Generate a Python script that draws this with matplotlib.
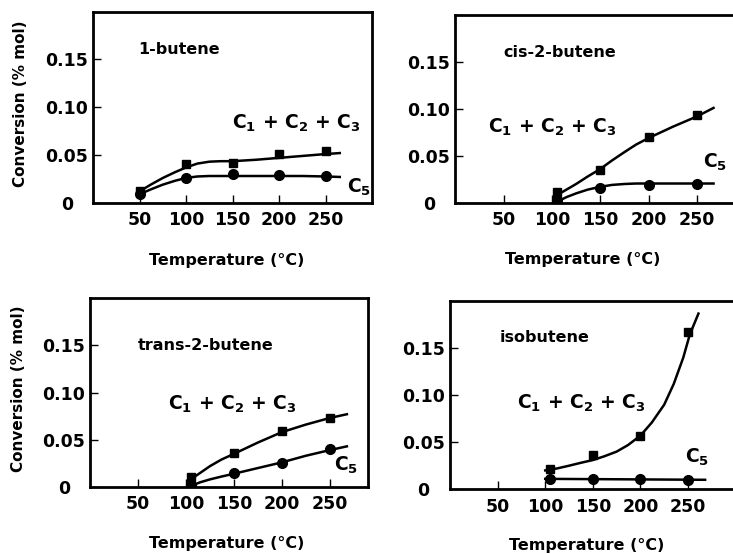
import matplotlib
matplotlib.use('Agg')
import matplotlib.pyplot as plt

plt.rcParams['font.family'] = ['DejaVu Sans']
plt.rcParams['font.weight'] = 'bold'
plt.rcParams['axes.labelweight'] = 'bold'
plt.rcParams['mathtext.default'] = 'bf'

# measured points (temperature in C, conversion in % mol)
temps_1 = [50, 100, 150, 200, 250]
temps_2 = [105, 150, 200, 250]

butene1_c123 = [0.012, 0.041, 0.042, 0.051, 0.054]
butene1_c5 = [0.0095, 0.026, 0.030, 0.029, 0.028]
cis_c123 = [0.011, 0.035, 0.070, 0.093]
cis_c5 = [0.003, 0.016, 0.019, 0.020]
trans_c123 = [0.011, 0.036, 0.059, 0.073]
trans_c5 = [0.002, 0.015, 0.025, 0.040]
iso_c123 = [0.021, 0.036, 0.057, 0.167]
iso_c5 = [0.011, 0.011, 0.011, 0.010]

# hand drawn fit curves
fit1_x = [50, 62, 75, 88, 100, 112, 125, 137, 150, 175, 200, 225, 250, 265]
fit1_c123 = [0.012, 0.019, 0.026, 0.032, 0.037, 0.041, 0.043, 0.0435, 0.0435, 0.045, 0.047, 0.049, 0.051, 0.052]
fit1_c5 = [0.009, 0.014, 0.019, 0.023, 0.026, 0.0275, 0.028, 0.028, 0.028, 0.028, 0.028, 0.028, 0.0275, 0.027]

fit2_x = [105, 115, 125, 137, 150, 162, 175, 187, 200, 225, 250, 267]
fit2_c123 = [0.008, 0.014, 0.020, 0.028, 0.036, 0.045, 0.054, 0.062, 0.069, 0.081, 0.092, 0.101]
fit2_c5 = [0.001, 0.006, 0.010, 0.014, 0.017, 0.019, 0.020, 0.0205, 0.0205, 0.0205, 0.0205, 0.0205]

fit3_x = [105, 115, 125, 137, 150, 175, 200, 225, 250, 268]
fit3_c123 = [0.008, 0.015, 0.022, 0.029, 0.035, 0.047, 0.058, 0.066, 0.073, 0.077]
fit3_c5 = [0.001, 0.005, 0.008, 0.011, 0.014, 0.020, 0.026, 0.033, 0.039, 0.043]

fit4_x = [100, 112, 125, 137, 150, 162, 175, 187, 200, 212, 225, 235, 245, 252, 261]
fit4_c123 = [0.020, 0.022, 0.025, 0.028, 0.031, 0.035, 0.040, 0.047, 0.057, 0.071, 0.090, 0.112, 0.140, 0.165, 0.187]
fit4_c5_x = [100, 268]
fit4_c5 = [0.011, 0.010]

panels = [
    dict(name='1-butene', pos=[0.127, 0.634, 0.381, 0.345], xlim=300,
         tx=temps_1, sq=butene1_c123, ci=butene1_c5,
         fx=fit1_x, fsq=fit1_c123, fcx=fit1_x, fci=fit1_c5,
         title_xy=(0.16, 0.80), lab123=(149, 0.083), lab5=(273, 0.016),
         xlab_x=0.48, ylabel=True),
    dict(name='cis-2-butene', pos=[0.621, 0.634, 0.396, 0.339], xlim=300,
         tx=temps_2, sq=cis_c123, ci=cis_c5,
         fx=fit2_x, fsq=fit2_c123, fcx=fit2_x, fci=fit2_c5,
         title_xy=(0.165, 0.80), lab123=(34, 0.080), lab5=(256, 0.043),
         xlab_x=0.44, ylabel=False),
    dict(name='trans-2-butene', pos=[0.123, 0.121, 0.379, 0.341], xlim=290,
         tx=temps_2, sq=trans_c123, ci=trans_c5,
         fx=fit3_x, fsq=fit3_c123, fcx=fit3_x, fci=fit3_c5,
         title_xy=(0.17, 0.75), lab123=(81, 0.087), lab5=(255, 0.023),
         xlab_x=0.49, ylabel=True),
    dict(name='isobutene', pos=[0.614, 0.117, 0.396, 0.339], xlim=305,
         tx=temps_2, sq=iso_c123, ci=iso_c5,
         fx=fit4_x, fsq=fit4_c123, fcx=fit4_c5_x, fci=fit4_c5,
         title_xy=(0.17, 0.81), lab123=(70, 0.091), lab5=(247, 0.034),
         xlab_x=0.47, ylabel=False),
]

fig = plt.figure(figsize=(7.33, 5.54), dpi=100)

for p in panels:
    ax = fig.add_axes(p['pos'])
    ax.plot(p['fx'], p['fsq'], color='black', lw=1.8)
    ax.plot(p['fcx'], p['fci'], color='black', lw=1.8)
    ax.plot(p['tx'], p['sq'], 's', color='black', ms=6)
    ax.plot(p['tx'], p['ci'], 'o', color='black', ms=7)
    ax.set_xlim(0, p['xlim'])
    ax.set_ylim(0, 0.2)
    ax.set_xticks([50, 100, 150, 200, 250])
    ax.set_yticks([0, 0.05, 0.10, 0.15])
    ax.set_yticklabels(['0', '0.05', '0.10', '0.15'], ha='center')
    ax.tick_params(direction='in', length=6, width=1, labelsize=12.5)
    ax.tick_params(axis='x', pad=6)
    ax.tick_params(axis='y', pad=19)
    for s in ax.spines.values():
        s.set_linewidth(2)
    ax.text(p['title_xy'][0], p['title_xy'][1], p['name'], transform=ax.transAxes,
            fontsize=11.5, va='center', ha='left')
    ax.text(p['lab123'][0], p['lab123'][1], 'C$_1$ + C$_2$ + C$_3$',
            fontsize=13.5, va='center', ha='left')
    ax.text(p['lab5'][0], p['lab5'][1], 'C$_5$', fontsize=13.5, va='center', ha='left')
    ax.text(p['xlab_x'], -0.30, 'Temperature (°C)', transform=ax.transAxes,
            fontsize=11.5, ha='center', va='center')
    if p['ylabel']:
        ax.set_ylabel('Conversion (% mol)', fontsize=11)
        ax.yaxis.set_label_coords(-0.232, 0.52)

fig.savefig('out.png', dpi=100)
